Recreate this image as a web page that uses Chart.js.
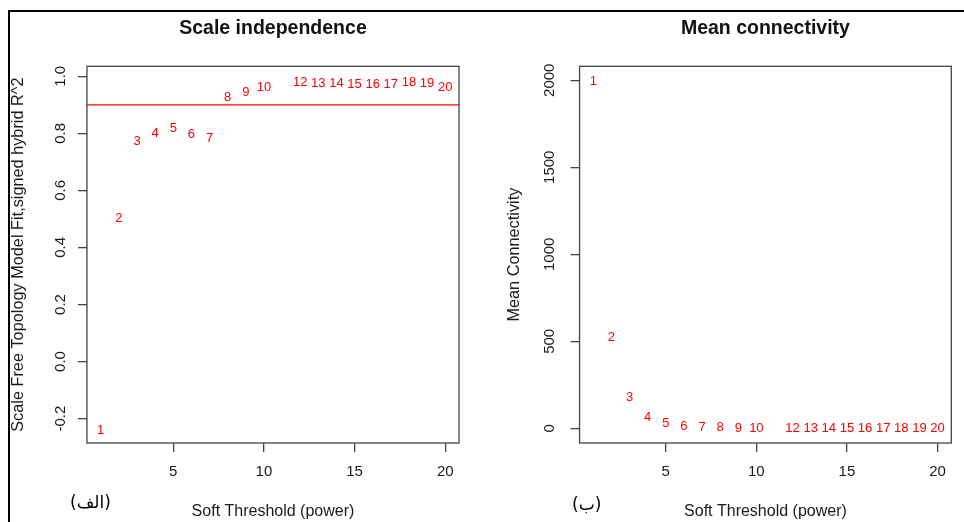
<!DOCTYPE html>
<html>
<head>
<meta charset="utf-8">
<script src="https://cdn.jsdelivr.net/npm/chart.js@4.4.1/dist/chart.umd.min.js"></script>
<style>
  body { margin: 0; background: #fff; width: 964px; height: 522px; overflow: hidden; position: relative; }
  .frame { position: absolute; left: 8px; top: 10px; right: 0; bottom: 0; border-top: 2.5px solid #000; border-left: 2.5px solid #000; }
  .panel { position: absolute; top: 0; width: 482px; height: 522px; }
  .tag { position: absolute; font-family: "DejaVu Sans", sans-serif; font-size: 17px; color: #000; line-height: 20px; }
</style>
</head>
<body>
<div class="frame"></div>
<div class="panel" style="left:0"><canvas id="sft"></canvas></div>
<div class="panel" style="left:482px"><canvas id="conn"></canvas></div>
<div class="tag" style="left:70px; top:492px" dir="rtl">(الف)</div>
<div class="tag" style="left:572px; top:494px" dir="rtl">(ب)</div>
<script>
// soft threshold powers (11 is not shown in the figure)
const powers = [1, 2, 3, 4, 5, 6, 7, 8, 9, 10, 12, 13, 14, 15, 16, 17, 18, 19, 20];
const fitR2 = [-0.24, 0.50, 0.772, 0.800, 0.816, 0.796, 0.781, 0.925, 0.944, 0.960,
               0.979, 0.975, 0.975, 0.970, 0.970, 0.971, 0.979, 0.975, 0.961];
const meanK = [1992, 520, 178, 64, 27, 10, 5, 3.5, 2.5, 1.8,
               1.2, 1.0, 0.8, 0.7, 0.6, 0.5, 0.4, 0.35, 0.3];
const xTicks = [5, 10, 15, 20];
const fitTicks = [-0.2, 0, 0.2, 0.4, 0.6, 0.8, 1.0];
const kTicks = [0, 500, 1000, 1500, 2000];
const cutHeight = 0.9;

Chart.defaults.font.family = '"Liberation Sans", Arial, sans-serif';
Chart.defaults.color = '#1a1a1a';

const boxPlugin = {
  id: 'box',
  afterDraw(chart) {
    const a = chart.chartArea, ctx = chart.ctx;
    ctx.save();
    ctx.strokeStyle = '#444';
    ctx.lineWidth = 1.3;
    ctx.strokeRect(a.left, a.top, a.right - a.left, a.bottom - a.top);
    ctx.restore();
  }
};

const labelPlugin = {
  id: 'numLabels',
  afterDatasetsDraw(chart) {
    const ctx = chart.ctx;
    const meta = chart.getDatasetMeta(0);
    ctx.save();
    ctx.fillStyle = '#ff0000';
    ctx.font = '13px "Liberation Sans", Arial, sans-serif';
    ctx.textAlign = 'center';
    ctx.textBaseline = 'middle';
    meta.data.forEach((pt, i) => ctx.fillText(String(powers[i]), pt.x, pt.y));
    ctx.restore();
  }
};

const cutLine = {
  id: 'cutLine',
  beforeDatasetsDraw(chart) {
    const a = chart.chartArea, ctx = chart.ctx;
    const y = chart.scales.y.getPixelForValue(cutHeight);
    ctx.save();
    ctx.strokeStyle = '#ff0000';
    ctx.lineWidth = 1.2;
    ctx.beginPath();
    ctx.moveTo(a.left, y);
    ctx.lineTo(a.right, y);
    ctx.stroke();
    ctx.restore();
  }
};

function makeChart(id, title, yTitle, ys, yMin, yMax, yTicks, fmt, yPad, yTitlePad, layoutPad, extra) {
  const tickGrid = { drawOnChartArea: false, drawTicks: true, tickLength: 9, color: '#444', lineWidth: 1.3 };
  return new Chart(document.getElementById(id), {
    type: 'scatter',
    data: {
      datasets: [{ data: powers.map((x, i) => ({ x: x, y: ys[i] })), pointRadius: 0, showLine: false }]
    },
    options: {
      responsive: true,
      maintainAspectRatio: false,
      animation: false,
      layout: { padding: layoutPad },
      plugins: {
        legend: { display: false },
        tooltip: { enabled: false },
        title: {
          display: true, text: title, fullSize: false, color: '#111',
          font: { size: 19.5, weight: 'bold' }, padding: { top: 16.6, bottom: 26.3 }
        }
      },
      scales: {
        x: {
          type: 'linear', min: 0.24, max: 20.76,
          afterBuildTicks: s => { s.ticks = xTicks.map(v => ({ value: v })); },
          grid: tickGrid,
          border: { display: false },
          ticks: { padding: 11.3, font: { size: 15 }, maxRotation: 0, autoSkip: false, callback: v => String(v) },
          title: { display: true, text: 'Soft Threshold (power)', font: { size: 16 }, padding: { top: 9.8, bottom: 0.4 } }
        },
        y: {
          type: 'linear', min: yMin, max: yMax,
          afterBuildTicks: s => { s.ticks = yTicks.map(v => ({ value: v })); },
          grid: tickGrid,
          border: { display: false },
          ticks: { padding: yPad, font: { size: 15 }, minRotation: 90, maxRotation: 90, crossAlign: 'center', autoSkip: false, callback: fmt },
          title: { display: true, text: yTitle, font: { size: 16.3 }, padding: yTitlePad }
        }
      }
    },
    plugins: [boxPlugin, labelPlugin].concat(extra)
  });
}

makeChart('sft', 'Scale independence', 'Scale Free Topology Model Fit,signed hybrid R^2',
  fitR2, -0.2856, 1.035, fitTicks, v => v.toFixed(1), 4,
  { top: 9.2, bottom: 23.2 }, { left: 0, right: 23, top: 0, bottom: 0 }, [cutLine]);

makeChart('conn', 'Mean connectivity', 'Mean Connectivity',
  meanK, -84, 2080, kTicks, v => String(v), 3.6,
  { top: 22.8, bottom: 21.0 }, { left: 0, right: 12.7, top: 0, bottom: 0 }, []);
</script>
</body>
</html>
